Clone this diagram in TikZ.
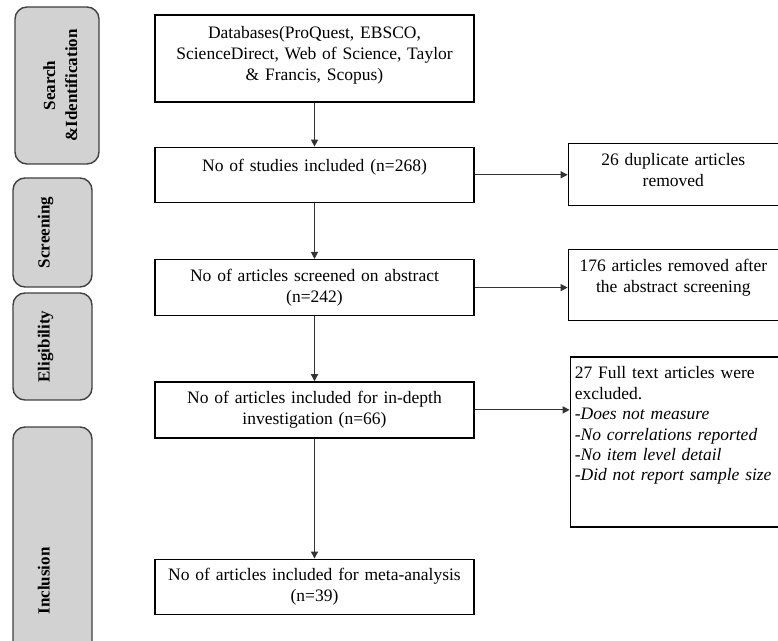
\documentclass[tikz,border=0pt]{standalone}
\usepackage{fontspec}
\setmainfont{Liberation Serif}
\usetikzlibrary{arrows.meta,positioning}

\begin{document}
\begin{tikzpicture}[
      x=1pt, y=1pt,
      font=\fontsize{17.5}{21}\selectfont,
      stagebox/.style={draw=black!75, line width=1.4pt, rounded corners=12pt, fill=gray!35,
        font=\fontsize{17}{22}\selectfont\bfseries, rotate=90, align=center,
        inner sep=0pt, text height=12pt, text depth=18pt, minimum height=79pt},
      mainbox/.style={draw, line width=1.3pt, align=center, text width=309pt, inner xsep=5pt,
        minimum width=319pt, minimum height=56pt},
      sidebox/.style={draw, line width=1.3pt, align=center, text width=200pt, inner xsep=5pt,
        inner ysep=5pt, text height=17pt},
      arrow/.style={-{Triangle[length=7pt, width=7pt]}, line width=1.2pt, black!80}
    ]
    \useasboundingbox (0,0) rectangle (778,640);
    % stages on the left
    \node[stagebox, minimum width=157pt, minimum height=84pt, text width=150pt, text depth=16pt] (search) at (57,554.5) {Search\\\&Identification};
    \node[stagebox, minimum width=109pt] (screen) at (52.5,407.5) {Screening};
    \node[stagebox, minimum width=107pt] (elig) at (52.5,293.5) {Eligibility};
    \node[stagebox, minimum width=308pt] (incl) at (52.5,59) {Inclusion};
    % main column
    \node[mainbox, minimum height=87pt, text depth=53pt] (db) at (314.5,581.5) {Databases(ProQuest, EBSCO,\\ScienceDirect, Web of Science, Taylor\\\& Francis, Scopus)};
    \node[mainbox, below=44pt of db, minimum height=55pt, text depth=18pt] (studies) {No of studies included (n=268)};
    \node[mainbox, below=56pt of studies] (screened) {No of articles screened on abstract\\(n=242)};
    \node[mainbox, below=65pt of screened] (indepth) {No of articles included for in-depth\\investigation (n=66)};
    \node[mainbox, below=120pt of indepth, minimum height=55pt] (meta) {No of articles included for meta-analysis\\(n=39)};
    % removed articles
    \node[sidebox, right=93pt of studies, text depth=35pt] (dup) {26 duplicate articles\\removed};
    \node[sidebox, right=93pt of screened, yshift=2.5pt, text depth=44pt] (abs) {176 articles removed after\\the abstract screening};
    \node[sidebox, right=95pt of indepth, yshift=-32pt, align=left, text width=199pt, inner xsep=4.5pt,
      text depth=143pt, font=\fontsize{17.5}{20.4}\selectfont] (full) {27 Full text articles were\\excluded.\\\textit{-Does not measure}\\\textit{-No correlations reported}\\\textit{-No item level detail}\\\mbox{\textit{-Did not report sample size}}};
    \draw[arrow] (db) -- (studies);
    \draw[arrow] (studies) -- (screened);
    \draw[arrow] (screened) -- (indepth);
    \draw[arrow] (indepth) -- (meta);
    \draw[arrow] (studies.east) -- (studies.east -| dup.west);
    \draw[arrow] (screened.east) -- (screened.east -| abs.west);
    \draw[arrow] (indepth.east) -- (indepth.east -| full.west);
  \end{tikzpicture}
\end{document}
